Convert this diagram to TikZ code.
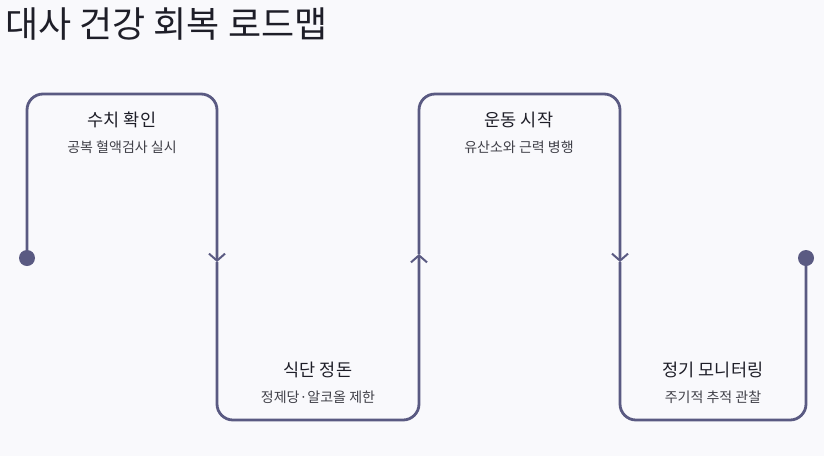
\documentclass[tikz,border=0pt]{standalone}
\usepackage{fontspec}
\setmainfont{Noto Sans CJK KR}
\usetikzlibrary{arrows.meta}
\definecolor{roadcol}{HTML}{5A5A82}
\definecolor{bgcol}{HTML}{F9F9FC}
\definecolor{inkcol}{HTML}{1E1E28}
\begin{document}
\begin{tikzpicture}[x=1pt,y=-1pt,
    road/.style={roadcol, line width=2.8pt, rounded corners=16pt},
    tip/.style={-{Straight Barb[length=7pt,width=16pt,line width=2pt]}},
    stage/.style={text=inkcol, font=\fontsize{17.5}{20}\selectfont},
    detail/.style={text=inkcol!85, font=\fontsize{14}{16}\selectfont}]
    \fill [bgcol] (0,0) rectangle (824,456);
    \useasboundingbox (0,0) rectangle (824,456);
    \node [anchor=base west, inner sep=0pt, text=inkcol, font=\fontsize{36}{42}\selectfont] (title) at (5,37) {대사 건강 회복 로드맵};
    \coordinate (s) at (27,258);
    \coordinate (a1) at (217,262);
    \coordinate (a2) at (419,254);
    \coordinate (a3) at (620,262);
    \coordinate (e) at (806,258);
    \coordinate (t1) at (122,94);
    \coordinate (b1) at (318,420);
    \coordinate (t2) at (519,94);
    \coordinate (b2) at (713,420);
    \draw [road,tip] (s) |- (t1) -| (a1);
    \draw [road,tip] (a1) |- (b1) -| (a2);
    \draw [road,tip] (a2) |- (t2) -| (a3);
    \draw [road] (a3) |- (b2) -| (e);
    \fill [roadcol] (s) circle (8);
    \fill [roadcol] (e) circle (8);
    \node [stage] (h1) at (122,120) {수치 확인};
    \node [detail] (d1) at (122,147) {공복 혈액검사 실시};
    \node [stage] (h2) at (318,370) {식단 정돈};
    \node [detail] (d2) at (318,397) {정제당·알코올 제한};
    \node [stage] (h3) at (519,120) {운동 시작};
    \node [detail] (d3) at (519,147) {유산소와 근력 병행};
    \node [stage] (h4) at (713,370) {정기 모니터링};
    \node [detail] (d4) at (713,397) {주기적 추적 관찰};
\end{tikzpicture}
\end{document}
